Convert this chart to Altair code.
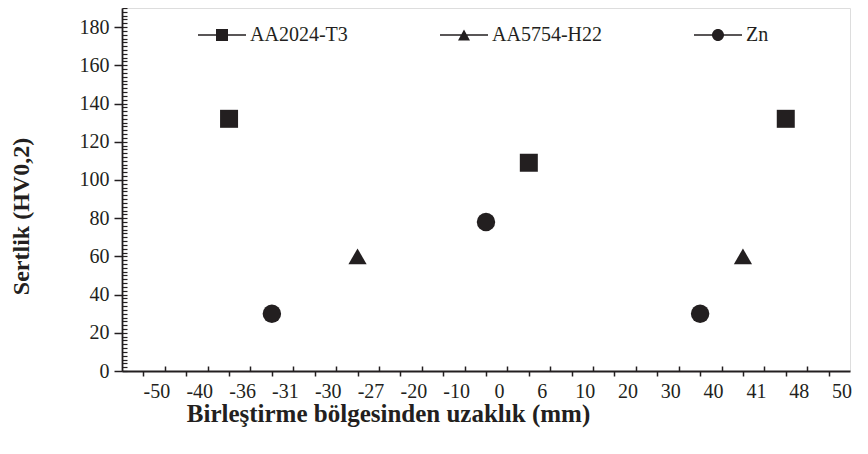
import altair as alt
import pandas as pd

# ---- data ----
x_labels = ["-50", "-40", "-36", "-31", "-30", "-27", "-20", "-10", "0",
            "6", "10", "20", "30", "40", "41", "48", "50"]
series_names = ["AA2024-T3", "AA5754-H22", "Zn"]

aa2024_x = ["-36", "6", "48"]
aa2024_y = [132, 109, 132]
aa5754_x = ["-27", "41"]
aa5754_y = [60, 60]
zn_x = ["-31", "0", "40"]
zn_y = [30, 78, 30]

rows = []
for name, xs, ys in [(series_names[0], aa2024_x, aa2024_y),
                     (series_names[1], aa5754_x, aa5754_y),
                     (series_names[2], zn_x, zn_y)]:
    for xv, yv in zip(xs, ys):
        rows.append({"pos": x_labels.index(xv) + 1, "label": xv, "hv": yv, "series": name})
df = pd.DataFrame(rows)

INK = "#231f20"
FONT = "Liberation Serif"
W, H = 728, 363
PAD_L = 114

label_array = "[" + ",".join("'" + s + "'" for s in x_labels) + "]"

xscale = alt.Scale(domain=[0.5, 17.5], nice=False, zero=False)
yscale = alt.Scale(domain=[0, 190], nice=False)

x_major = alt.Axis(
    values=list(range(1, len(x_labels) + 1)),
    labelExpr=label_array + "[datum.value - 1]",
    tickSize=5, tickWidth=1.5, tickColor=INK,
    domainColor=INK, domainWidth=1.8,
    labelOffset=13, labelPadding=5, labelFont=FONT, labelFontSize=20, labelColor=INK,
    labelAngle=0, labelOverlap=False, grid=False,
    title="Birleştirme bölgesinden uzaklık (mm)",
    titleFont=FONT, titleFontSize=25, titleFontWeight="bold", titleColor=INK,
    titleX=266, titleY=50, titleAlign="center", titleBaseline="alphabetic",
)
y_major = alt.Axis(
    values=list(range(0, 181, 20)),
    tickSize=8, tickWidth=1.5, tickColor=INK,
    domainColor=INK, domainWidth=1.8,
    labelPadding=5, labelFont=FONT, labelFontSize=20, labelColor=INK, grid=False,
    title="Sertlik (HV0,2)",
    titleFont=FONT, titleFontSize=24, titleFontWeight="bold", titleColor=INK,
    titleX=-101, titleY=208, titleAngle=270, titleAlign="center", titleBaseline="middle",
)

points = alt.Chart(df).mark_point(filled=True, opacity=1, color=INK).encode(
    x=alt.X("pos:Q", scale=xscale, axis=x_major),
    y=alt.Y("hv:Q", scale=yscale, axis=y_major),
    shape=alt.Shape("series:N",
                    scale=alt.Scale(domain=series_names, range=["square", "triangle-up", "circle"]),
                    legend=None),
    size=alt.Size("series:N",
                  scale=alt.Scale(domain=series_names, range=[324, 340, 270]),
                  legend=None),
)

# inward minor ticks (axes placed on the opposite edge, ticks pointing inside)
minor = alt.Chart(df).mark_point(opacity=0).encode(
    x=alt.X("pos:Q", scale=xscale,
            axis=alt.Axis(orient="top", offset=-H, values=[i + 0.5 for i in range(1, 17)],
                          labels=False, ticks=True, tickSize=5, tickWidth=1.5, tickColor=INK,
                          domain=False, grid=False, title=None)),
    y=alt.Y("hv:Q", scale=yscale,
            axis=alt.Axis(orient="right", offset=-W, values=list(range(0, 191, 2)),
                          labels=False, ticks=True, tickSize=5, tickWidth=1.2, tickColor=INK,
                          domain=False, grid=False, title=None)),
)

# legend glyphs: a thin filled bar (the line) plus the marker, all wound clockwise
LINE = "M-2,-0.06H2V0.06H-2Z"
legend_paths = [
    LINE + "M-0.5,-0.5H0.5V0.5H-0.5Z",
    LINE + "M0,-0.45L0.5,0.45H-0.5Z",
    LINE + "M-0.5,0A0.5,0.5 0 1,1 0.5,0A0.5,0.5 0 1,1 -0.5,0Z",
]
legend_layer = alt.Chart(df).transform_filter("false").mark_point(
    filled=True, color=INK, size=576, opacity=1
).encode(
    x=alt.X("pos:Q", scale=xscale, axis=None),
    y=alt.Y("hv:Q", scale=yscale, axis=None),
    shape=alt.Shape("series:N",
                    scale=alt.Scale(domain=series_names, range=legend_paths),
                    legend=alt.Legend(orient="none", legendX=87, legendY=14,
                                      direction="horizontal", title=None,
                                      labelFont=FONT, labelFontSize=20, labelColor=INK,
                                      symbolSize=576, symbolFillColor=INK,
                                      labelOffset=15, columnPadding=89)),
)

chart = alt.layer(points, minor, legend_layer).resolve_scale(
    shape="independent", size="independent"
).resolve_axis(
    x="independent", y="independent"
).properties(
    width=W, height=H,
    autosize=alt.AutoSizeParams(type="none"),
    padding={"left": PAD_L, "top": 0, "right": 10, "bottom": 72},
).configure_view(
    stroke=INK, strokeWidth=1.8
).configure(background="white")

chart.save("out.html", embed_options={"renderer": "svg", "actions": False})
